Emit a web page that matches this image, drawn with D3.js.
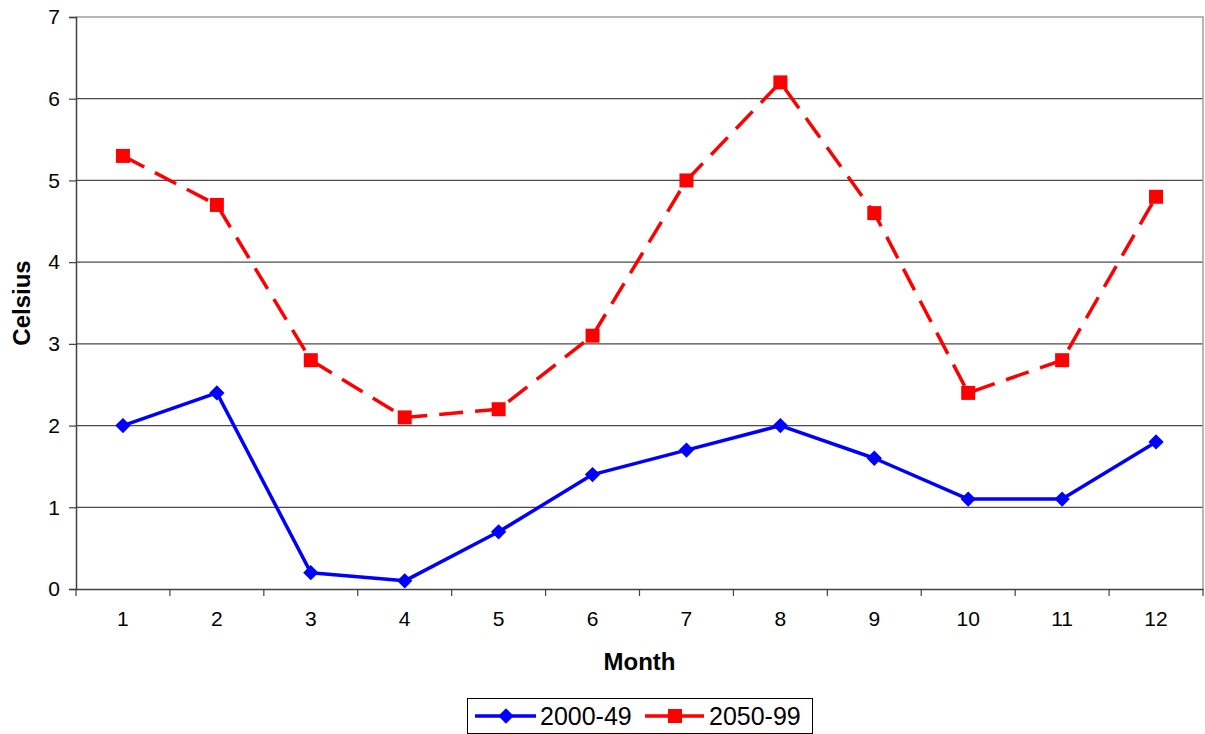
<!DOCTYPE html>
<html><head><meta charset="utf-8">
<script src="https://cdn.jsdelivr.net/npm/d3@7"></script>
<style>body{margin:0;background:#fff}svg{display:block;font-family:Arial,"Liberation Sans",sans-serif}</style>
</head><body>
<svg id="c" width="1205" height="734"></svg>
<script>
const months = [1,2,3,4,5,6,7,8,9,10,11,12];
const series1Name = "2000-49";
const series1 = [2.0,2.4,0.2,0.1,0.7,1.4,1.7,2.0,1.6,1.1,1.1,1.8];
const series2Name = "2050-99";
const series2 = [5.3,4.7,2.8,2.1,2.2,3.1,5.0,6.2,4.6,2.4,2.8,4.8];
const yTicks = [0,1,2,3,4,5,6,7];

const svg = d3.select("#c");
const L = 76, R = 1203, T = 17, B = 589;
const x = d3.scaleBand().domain(months).range([L, R]);
const y = d3.scaleLinear().domain([0,7]).range([B, T]);

// gridlines
svg.append("g").selectAll("line").data(yTicks.filter(d=>d>0 && d<7)).join("line")
  .attr("x1", L).attr("x2", R).attr("y1", d=>y(d)).attr("y2", d=>y(d))
  .attr("stroke", "#4a4a4a").attr("stroke-width", 1.2);
// plot border top/right
svg.append("path").attr("d", `M${L},${T}H${R}V${B}`).attr("fill","none").attr("stroke","#a0a0a0").attr("stroke-width",1.5);

// y axis
const ya = svg.append("g").attr("transform", `translate(${L},0)`)
  .call(d3.axisLeft(y).tickValues(yTicks).tickSize(7).tickPadding(9).tickFormat(d3.format("d")));
ya.select(".domain").attr("stroke","#404040").attr("stroke-width",1.5);
ya.selectAll(".tick line").attr("stroke","#404040").attr("stroke-width",1.2);
ya.selectAll(".tick text").attr("font-size", 21).attr("font-family","Arial, 'Liberation Sans', sans-serif").attr("fill","#000");

// x axis
const xa = svg.append("g").attr("transform", `translate(0,${B})`)
  .call(d3.axisBottom(x).tickSize(0).tickPadding(22));
xa.select(".domain").attr("stroke","#404040").attr("stroke-width",1.5);
xa.selectAll(".tick text").attr("font-size", 21).attr("font-family","Arial, 'Liberation Sans', sans-serif").attr("fill","#000");
// category boundary ticks
const bounds = months.map(m => x(m)).concat([x(months[months.length-1]) + x.bandwidth()]);
svg.append("g").selectAll("line").data(bounds).join("line")
  .attr("x1", d=>d).attr("x2", d=>d).attr("y1", B).attr("y2", B+7)
  .attr("stroke","#404040").attr("stroke-width",1.2);

// titles
svg.append("text").attr("x", (L+R)/2).attr("y", 670).attr("text-anchor","middle")
  .attr("font-size", 24).attr("font-weight","bold").text("Month");
svg.append("text").attr("transform", `translate(30,${(T+B)/2}) rotate(-90)`).attr("text-anchor","middle")
  .attr("font-size", 24).attr("font-weight","bold").text("Celsius");

const cx = d => x(d) + x.bandwidth()/2;
const line = d3.line().x((d,i)=>cx(months[i])).y(d=>y(d));

// series 1 blue
svg.append("path").datum(series1).attr("d", line).attr("fill","none")
  .attr("stroke","#0000ff").attr("stroke-width",3.5).attr("stroke-linejoin","round");
svg.append("g").selectAll("path").data(series1).join("path")
  .attr("d", d3.symbol(d3.symbolDiamond2, 150)())
  .attr("transform", (d,i)=>`translate(${cx(months[i])},${y(d)})`)
  .attr("fill","#0000ff");

// series 2 red dashed
svg.append("path").datum(series2).attr("d", line).attr("fill","none")
  .attr("stroke","#ff0000").attr("stroke-width",3.5).attr("stroke-dasharray","24,12");
svg.append("g").selectAll("rect").data(series2).join("rect")
  .attr("x", (d,i)=>cx(months[i])-7).attr("y", d=>y(d)-7).attr("width",14).attr("height",14)
  .attr("fill","#ff0000");

// legend
const lg = svg.append("g");
lg.append("rect").attr("x",467.5).attr("y",698.5).attr("width",345).attr("height",35)
  .attr("fill","#fff").attr("stroke","#000").attr("stroke-width",1);
const ly = 716;
lg.append("line").attr("x1",475).attr("x2",536).attr("y1",ly).attr("y2",ly).attr("stroke","#0000ff").attr("stroke-width",3.5);
lg.append("path").attr("d", d3.symbol(d3.symbolDiamond2,150)()).attr("transform",`translate(506,${ly})`).attr("fill","#0000ff");
lg.append("text").attr("x",540).attr("y",ly).attr("dy","0.36em").attr("font-size",25).text(series1Name);
lg.append("line").attr("x1",645).attr("x2",704).attr("y1",ly).attr("y2",ly).attr("stroke","#ff0000").attr("stroke-width",3.5).attr("stroke-dasharray","24,12").attr("stroke-dashoffset",0);
lg.append("rect").attr("x",668).attr("y",ly-7).attr("width",14).attr("height",14).attr("fill","#ff0000");
lg.append("text").attr("x",709).attr("y",ly).attr("dy","0.36em").attr("font-size",25).text(series2Name);
</script>
</body></html>
